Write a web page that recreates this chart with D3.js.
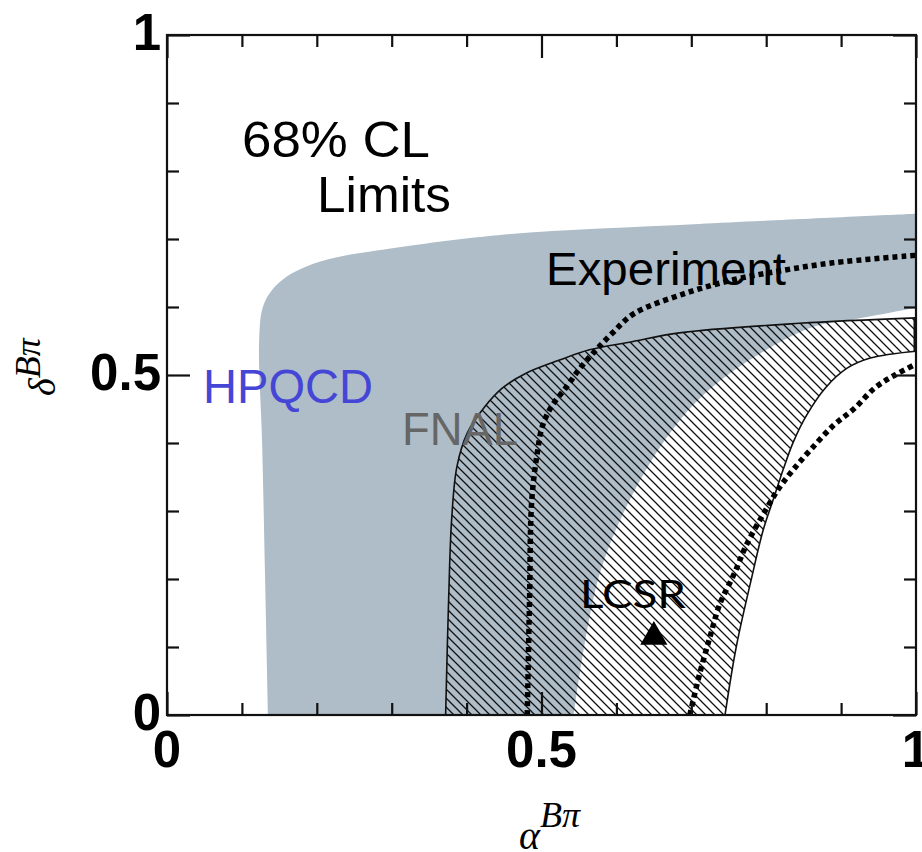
<!DOCTYPE html>
<html>
<head>
<meta charset="utf-8">
<script src="https://cdn.jsdelivr.net/npm/d3@7"></script>
<style>
  body { margin: 0; background: #fff; }
  svg { display: block; }
</style>
</head>
<body>
<svg id="chart" width="922" height="852"></svg>
<script>
// 68% CL contours in the (alpha, delta) plane
const hpqcdOuter = [[0.135,0],[0.131,0.2],[0.127,0.4],[0.123,0.55],[0.128,0.6],[0.141,0.626],[0.16,0.645],
  [0.187,0.66],[0.218,0.671],[0.28,0.683],[0.445,0.706],[0.71,0.722],[1.0,0.737]];
const hpqcdInner = [[0.543,0],[0.578,0.209],[0.632,0.346],[0.685,0.434],[0.731,0.485],[0.791,0.531],
  [0.863,0.571],[0.918,0.582],[1.0,0.599]];
const fnalOuter = [[0.372,0],[0.376,0.17],[0.380,0.287],[0.387,0.365],[0.401,0.415],[0.424,0.453],[0.448,0.481],
  [0.480,0.503],[0.524,0.522],[0.564,0.537],[0.621,0.549],[0.684,0.562],[0.844,0.576],[1.0,0.584]];
const fnalInner = [[0.745,0],[0.760,0.1],[0.780,0.199],[0.796,0.272],[0.811,0.322],[0.823,0.362],[0.836,0.401],
  [0.854,0.441],[0.879,0.481],[0.908,0.510],[0.939,0.525],[1.0,0.535]];
const expOuter = [[0.481,0],[0.484,0.169],[0.487,0.316],[0.495,0.390],[0.501,0.424],[0.513,0.453],[0.533,0.482],
  [0.553,0.512],[0.573,0.537],[0.595,0.562],[0.623,0.590],[0.689,0.619],[0.756,0.640],[0.823,0.654],
  [0.889,0.665],[1.0,0.676]];
const expInner = [[0.698,0],[0.711,0.060],[0.725,0.115],[0.738,0.163],[0.757,0.207],[0.774,0.251],[0.797,0.297],
  [0.818,0.335],[0.837,0.362],[0.860,0.391],[0.890,0.426],[0.918,0.451],[0.945,0.481],[0.972,0.500],[1.0,0.516]];
const lcsrPoint = [0.650, 0.115];

const minorTicks = d3.range(0, 1.0001, 0.1).map(v => +v.toFixed(1));
const majorTicks = [0, 0.5, 1];
const tickLabels = ["0", "0.5", "1"];

const svg = d3.select("#chart");
const x = d3.scaleLinear().domain([0, 1]).range([167, 916]);
const y = d3.scaleLinear().domain([0, 1]).range([715, 35]);

// hatch pattern for FNAL
const defs = svg.append("defs");
defs.append("pattern")
  .attr("id", "hatch")
  .attr("patternUnits", "userSpaceOnUse")
  .attr("width", 9).attr("height", 9)
  .append("path")
  .attr("d", "M0,0L9,9M-1,8L1,10M8,-1L10,1")
  .attr("stroke", "#111").attr("stroke-width", 1.3);

defs.append("clipPath").attr("id", "plotclip")
  .append("rect")
  .attr("x", x(0)).attr("y", y(1))
  .attr("width", x(1) - x(0)).attr("height", y(0) - y(1));

const line = d3.line().x(d => x(d[0])).y(d => y(d[1])).curve(d3.curveCatmullRom);

// band between two curves, closed along the bottom axis
function band(outer, inner) {
  return line(outer) + line(inner.slice().reverse()).replace(/^M/, "L") + "Z";
}

const plot = svg.append("g").attr("clip-path", "url(#plotclip)");

// HPQCD grey band
plot.append("path")
  .attr("d", band(hpqcdOuter, hpqcdInner))
  .attr("fill", "#aebdc8");

// FNAL hatched band
plot.append("path")
  .attr("d", band(fnalOuter, fnalInner))
  .attr("fill", "url(#hatch)");
[fnalOuter, fnalInner].forEach(c => {
  plot.append("path").attr("d", line(c))
    .attr("fill", "none").attr("stroke", "#111").attr("stroke-width", 1.6);
});
plot.append("line")
  .attr("x1", x(1)).attr("x2", x(1))
  .attr("y1", y(fnalOuter[fnalOuter.length - 1][1])).attr("y2", y(fnalInner[fnalInner.length - 1][1]))
  .attr("stroke", "#111").attr("stroke-width", 5);

// Experiment dotted curves
[expOuter, expInner].forEach(c => {
  plot.append("path").attr("d", line(c))
    .attr("fill", "none").attr("stroke", "#000")
    .attr("stroke-width", 5.5).attr("stroke-dasharray", "5,4");
});

// LCSR triangle
svg.append("path")
  .attr("d", d3.symbol().type(d3.symbolTriangle).size(320))
  .attr("transform", `translate(${x(lcsrPoint[0])},${y(lcsrPoint[1])})`)
  .attr("fill", "#000");

// frame
svg.append("rect")
  .attr("x", x(0)).attr("y", y(1))
  .attr("width", x(1) - x(0)).attr("height", y(0) - y(1))
  .attr("fill", "none").attr("stroke", "#111").attr("stroke-width", 2.2);

// inward ticks on all four sides
function ticks(axisFn, transform, size, vals) {
  const g = svg.append("g").attr("transform", transform)
    .call(axisFn.tickValues(vals).tickSize(size).tickFormat(""));
  g.select(".domain").remove();
  g.selectAll("line").attr("stroke", "#111").attr("stroke-width", 2.2);
}
const minorOnly = minorTicks.filter(v => !majorTicks.includes(v));
ticks(d3.axisBottom(x), `translate(0,${y(0)})`, -12, minorOnly);
ticks(d3.axisBottom(x), `translate(0,${y(0)})`, -23, majorTicks);
ticks(d3.axisTop(x), `translate(0,${y(1)})`, -12, minorOnly);
ticks(d3.axisTop(x), `translate(0,${y(1)})`, -23, majorTicks);
ticks(d3.axisLeft(y), `translate(${x(0)},0)`, -12, minorOnly);
ticks(d3.axisLeft(y), `translate(${x(0)},0)`, -23, majorTicks);
ticks(d3.axisRight(y), `translate(${x(1)},0)`, -12, minorOnly);
ticks(d3.axisRight(y), `translate(${x(1)},0)`, -23, majorTicks);

// tick labels
const labFont = "'Liberation Sans', Arial, Helvetica, sans-serif";
svg.append("g").selectAll("text").data(majorTicks).join("text")
  .attr("x", d => x(d)).attr("y", 767)
  .attr("text-anchor", "middle")
  .attr("font-family", labFont).attr("font-weight", "bold").attr("font-size", 51)
  .text((d, i) => tickLabels[i]);
svg.append("g").selectAll("text").data(majorTicks).join("text")
  .attr("x", 161).attr("y", d => y(d) + 15)
  .attr("text-anchor", "end")
  .attr("font-family", labFont).attr("font-weight", "bold").attr("font-size", 51)
  .text((d, i) => tickLabels[i]);

// axis titles
const serif = "'Liberation Serif', 'DejaVu Serif', Times, serif";
const xt = svg.append("text").attr("x", 519).attr("y", 849)
  .attr("font-family", serif).attr("font-style", "italic").attr("font-size", 40);
xt.append("tspan").text("\u03B1");
xt.append("tspan").attr("dy", -22).attr("font-size", 36).text("B\u03C0");

const yt = svg.append("text").attr("transform", "translate(55,396) rotate(-90)")
  .attr("font-family", serif).attr("font-style", "italic").attr("font-size", 38);
yt.append("tspan").text("\u03B4");
yt.append("tspan").attr("dy", -15).attr("font-size", 36).text("B\u03C0");

// in-plot labels
const sans = "'Liberation Sans', Arial, Helvetica, sans-serif";
function label(txt, px, py, size, color, family, len) {
  const t = svg.append("text").attr("x", px).attr("y", py)
    .attr("font-family", family || sans).attr("font-size", size)
    .attr("fill", color).text(txt);
  if (len) t.attr("textLength", len).attr("lengthAdjust", "spacingAndGlyphs");
}
label("68% CL", 242, 157, 50, "#000", sans, 188);
label("Limits", 317, 212, 50, "#000", sans, 134);
label("Experiment", 546, 285, 47, "#000", sans, 240);
label("HPQCD", 203, 403, 48, "#4646d6", sans, 170);
label("FNAL", 402, 445, 46, "#666666", sans, 116);
label("LCSR", 580, 608, 39, "#000", "Lato, 'Open Sans', sans-serif", 106);
</script>
</body>
</html>
